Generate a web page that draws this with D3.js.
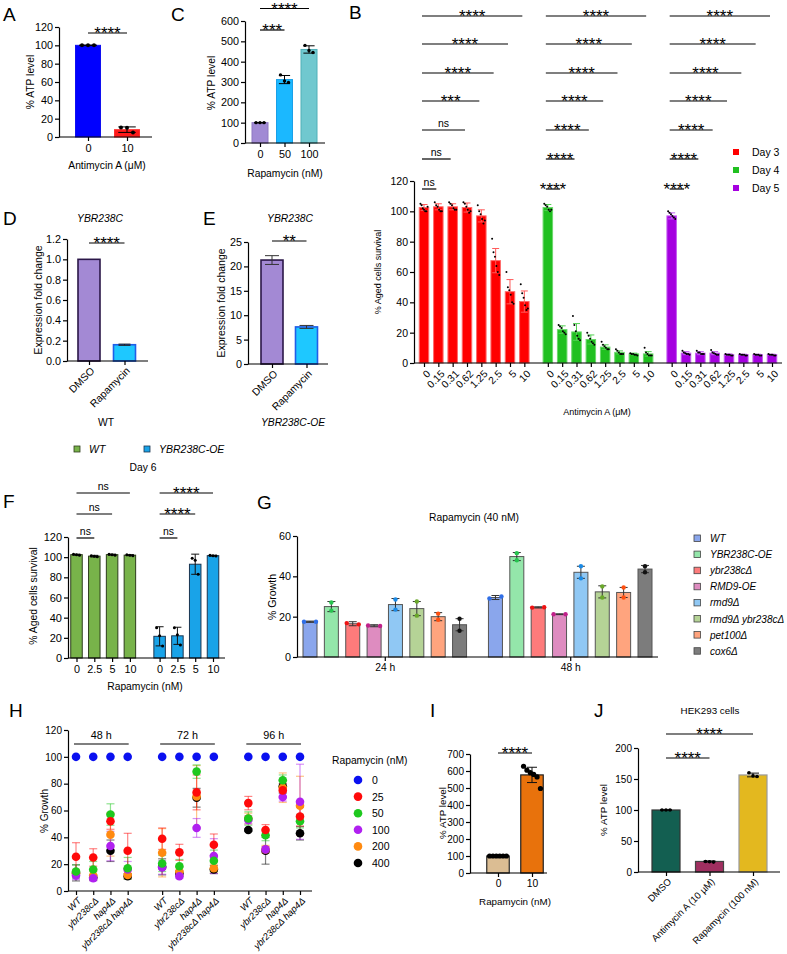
<!DOCTYPE html>
<html><head><meta charset="utf-8">
<script src="https://cdn.jsdelivr.net/npm/d3@7"></script>
<style>body{margin:0;background:#fff;}svg{font-family:"Liberation Sans",Arial,Helvetica,sans-serif;}</style>
</head><body>
<svg id="c" width="787" height="954"></svg>
<script>
// ---------------- DATA ----------------
// Panel A
const aCats = ["0", "10"];
const aVals = [100, 8];
const aErr = [0.3, 3];
const aDots = [[100, 100, 100], [10.5, 10, 5]];
const aTicks = [0, 20, 40, 60, 80, 100, 120];
// Panel C
const cCats = ["0", "50", "100"];
const cVals = [100, 312, 460];
const cErr = [0.5, 20, 18];
const cDots = [[100, 100, 100], [335, 305, 298], [480, 455, 445]];
const cTicks = [0, 100, 200, 300, 400, 500, 600];
// Panel B
const bDoses = ["0", "0.15", "0.31", "0.62", "1.25", "2.5", "5", "10"];
const bDays = ["Day 3", "Day 4", "Day 5"];
const bDay3 = [102.5, 103, 103, 102.5, 97, 67.5, 47, 40.5];
const bDay3Err = [2, 2, 2, 3, 4, 8, 8, 7];
const bDay4 = [102.5, 22, 20.5, 15.5, 10.5, 7, 6, 6];
const bDay4Err = [2, 2.5, 5.5, 3, 1.5, 1, 0.5, 1.5];
const bDay5 = [97, 6.5, 6.5, 6.5, 5.5, 5.5, 5.5, 5.5];
const bDay5Err = [2, 1, 1, 1, 0.5, 0.3, 0.3, 0.3];
const bDay3Dots = [[105,104,102,101,100,100,103],[106,104,103,101,100,100],[106,105,104,102,101,101],[106,105,103,101,99,100],[104,100,98,95,92,94],[82,73,70,64,60,58],[60,50,48,45,40,39],[52,46,43,38,35,36]];
const bDay4Dots = [[105,104,103,101,100,101],[25,24,23,21,20,19],[31,25,21,18,16,15],[20,18,16,14,13,12],[14,12,11,10,9,9],[9,8,7,6,6,6],[6.5,6,6,5.5,5.5,5],[10,7,6,5,5,5]];
const bDay5Dots = [[100,99,98,97,96,95],[8,7,6.5,6,6,5.5],[8,7,7,6,6,6],[8.5,7,6.5,6,5.5,5.5],[6,5.5,5.5,5.5,5,5],[6,5.5,5.5,5.5,5,5],[6,5.5,5.5,5.5,5,5],[6,5.5,5.5,5.5,5,5]];
const bSigDay3 = ["****", "****", "****", "***", "ns", "ns", "ns"];
const bSigDay4 = ["****", "****", "****", "****", "****", "****", "****"];
const bSigDay5 = ["****", "****", "****", "****", "****", "****", "****"];
const bTicks = [0, 20, 40, 60, 80, 100, 120];
// Panel D / E
const deCats = ["DMSO", "Rapamycin"];
const dVals = [1.0, 0.16];
const dErr = [0, 0.006];
const dTicks = [0, 0.2, 0.4, 0.6, 0.8, 1.0, 1.2];
const eVals = [21.3, 7.6];
const eErr = [0.9, 0.3];
const eTicks = [0, 5, 10, 15, 20, 25];
// Panel F
const fStrains = ["WT", "YBR238C-OE"];
const fDoses = ["0", "2.5", "5", "10"];
const fWT = [102.5, 101, 102.5, 102];
const fWTErr = [0.5, 0.8, 0.5, 0.5];
const fWTDots = [[103, 102.5, 102], [101.5, 101, 100.5], [103, 102.5, 102], [102.5, 102, 101.5]];
const fOE = [21.5, 22, 93, 101.5];
const fOEErr = [9.5, 8.5, 10, 0.4];
const fOEDots = [[30, 22, 12], [30, 23, 13], [99, 97, 83], [101.8, 101.5, 101.2]];
const fSigWT = ["ns", "ns", "ns"];
const fSigOE = ["****", "****", "ns"];
const fTicks = [0, 20, 40, 60, 80, 100, 120];
// Panel G
const gStrains = ["WT", "YBR238C-OE", "ybr238cΔ", "RMD9-OE", "rmd9Δ", "rmd9Δ ybr238cΔ", "pet100Δ", "cox6Δ"];
const gTimes = ["24 h", "48 h"];
const g24 = [17.5, 25, 16.5, 15.5, 26, 24, 20, 16];
const g24Err = [0.3, 2.5, 1, 0.5, 3, 3.5, 2, 3];
const g24Dots = [[17.5,17.5],[27,23],[16.8,16.2],[15.6,15.4],[28.5,23.5],[27.5,20.5],[21.5,18.5],[19,13]];
const g48 = [29.5, 49.8, 24.6, 21.2, 42, 32.3, 32, 43.6];
const g48Err = [1, 2, 0.3, 0.2, 3, 3, 2.5, 1.8];
const g48Dots = [[29,30],[51.5,48],[24.5,24.7],[21.2,21.2],[45,39],[35,29.5],[34.5,29.5],[45,42]];
const gTicks = [0, 20, 40, 60];
// Panel H
const hConcs = ["0", "25", "50", "100", "200", "400"];
const hStrains = ["WT", "ybr238cΔ", "hap4Δ", "ybr238cΔ hap4Δ"];
const hTimes = ["48 h", "72 h", "96 h"];
const h0 = [100,100,100,100, 100,100,100,100, 100,100,100,100];
const h0Err = [0,0,0,0, 0,0,0,0, 0,0,0,0];
const h25 = [25.5,25,52,30, 39,28.8,73.5,34.5, 65.5,45.5,75,55.5];
const h25Err = [10.5,6.5,6,13, 8,6,13,8, 5,4,5,7];
const h50 = [14.5,16,57,17, 20.5,18.5,89,22.5, 54,41.5,82.5,52];
const h50Err = [5,6,8,8, 6,5,5,8, 5,4,4,5];
const h100 = [11.5,9.5,33.5,16, 17.5,11,47,26, 53,31,70,66.5];
const h100Err = [3,2,11,6, 5,1.5,7,13, 3,2,3,28];
const h200 = [13,11.5,42,12, 28.5,14.5,70.5,17, 54,31,77,63.5];
const h200Err = [3,3,16,3, 18,3,23,3, 4,3,11,22];
const h400 = [13.5,10,30,11, 18,13,69.5,16, 45.5,30,78,43];
const h400Err = [6,2,8,2, 6,2,7,3, 1,10,5,5];
const hTicks = [0, 20, 40, 60, 80, 100, 120];
// Panel I
const iCats = ["0", "10"];
const iVals = [100, 577];
const iErr = [0.5, 45];
const iDots = [[100,100,100,100,100,100], [628,605,590,580,565,497]];
const iTicks = [0, 100, 200, 300, 400, 500, 600, 700];
// Panel J
const jCats = ["DMSO", "Antimycin A (10 µM)", "Rapamycin (100 nM)"];
const jVals = [100, 17, 156.5];
const jErr = [0.3, 0.8, 3];
const jDots = [[100,100,100], [17,16.5,16], [160,155,154]];
const jTicks = [0, 50, 100, 150, 200];

// ---------------- HELPERS ----------------
const FONT = '"Liberation Sans", Arial, Helvetica, sans-serif';
const svg = d3.select("#c");

function txt(t, x, y, o = {}) {
  const e = svg.append("text").attr("x", x).attr("y", y).text(t)
    .attr("font-size", o.fs || 10.5).attr("fill", o.fill || "#000")
    .attr("text-anchor", o.anchor || "start");
  if (o.italic) e.attr("font-style", "italic");
  if (o.rot) e.attr("transform", `rotate(${o.rot},${x},${y})`);
  return e;
}
function ylabel(t, x, y, fs) {
  txt(t, x, y, { fs: fs || 10.3, anchor: "middle", rot: -90 }).attr("dy", "0.35em");
}
function line(x1, y1, x2, y2, c, w) {
  return svg.append("line").attr("x1", x1).attr("y1", y1).attr("x2", x2).attr("y2", y2)
    .attr("stroke", c || "#000").attr("stroke-width", w || 1.2);
}
function yAxis(y, x, ticks, fmt, fs) {
  const g = svg.append("g").attr("transform", `translate(${x},0)`)
    .call(d3.axisLeft(y).tickValues(ticks).tickSize(4).tickSizeOuter(0).tickPadding(2)
      .tickFormat(fmt || d3.format("d")));
  g.attr("font-family", FONT).attr("font-size", fs || 10.8);
  g.selectAll("path,line").attr("stroke", "#000").attr("stroke-width", 1.2);
  g.selectAll("text").attr("fill", "#000");
  return g;
}
function xAxis(scale, vals, labels, y, o = {}) {
  const g = svg.append("g").attr("transform", `translate(0,${y})`)
    .call(d3.axisBottom(scale).tickValues(vals).tickFormat((d, i) => labels[i])
      .tickSize(4).tickSizeOuter(0).tickPadding(3));
  g.select(".domain").remove();
  g.attr("font-family", FONT).attr("font-size", o.fs || 10.8);
  g.selectAll("line").attr("stroke", "#000").attr("stroke-width", 1.2);
  g.selectAll("text").attr("fill", "#000");
  if (o.italic) g.selectAll("text").attr("font-style", "italic");
  if (o.rotate) g.selectAll("text").attr("x", 0).attr("y", 0).attr("dy", "0.35em")
    .attr("text-anchor", "end").attr("transform", `translate(${o.tx || 3},${o.ty || 8}) rotate(-45)`);
  return g;
}
function bars(xs, vals, errs, y, o) {
  const w = o.w;
  vals.forEach((v, i) => {
    const fill = Array.isArray(o.fill) ? o.fill[i] : o.fill;
    const stroke = Array.isArray(o.stroke) ? o.stroke[i] : o.stroke;
    svg.append("rect").attr("x", xs[i] - w / 2).attr("y", y(v)).attr("width", w)
      .attr("height", y(0) - y(v)).attr("fill", fill)
      .attr("stroke", stroke || "none").attr("stroke-width", o.sw || 1);
  });
  vals.forEach((v, i) => {
    const e = errs[i];
    const ec = Array.isArray(o.ec) ? o.ec[i] : (o.ec || "#000");
    if (e > 0) {
      const cw = o.cap || w * 0.35;
      line(xs[i], y(v + e), xs[i], y(v - e), ec, o.ew || 1);
      line(xs[i] - cw, y(v + e), xs[i] + cw, y(v + e), ec, o.ew || 1);
      line(xs[i] - cw, y(v - e), xs[i] + cw, y(v - e), ec, o.ew || 1);
    }
    if (o.dots) {
      const ds = o.dots[i], n = ds.length;
      const sp = n > 1 ? Math.min(o.dsp || 5, (w * 0.75) / (n - 1)) : 0;
      const dc = Array.isArray(o.dc) ? o.dc[i] : (o.dc || "#000");
      ds.forEach((d, j) => {
        svg.append("circle").attr("cx", xs[i] + (j - (n - 1) / 2) * sp).attr("cy", y(d))
          .attr("r", o.dr || 1.6).attr("fill", dc);
      });
    }
  });
}
function sig(x1, x2, yy, label, fs) {
  line(x1, yy, x2, yy, "#000", 1.2);
  const star = label.indexOf("*") >= 0;
  txt(label, (x1 + x2) / 2, star ? yy + 6 : yy - 3, { fs: star ? (fs || 17) : 10.5, anchor: "middle" });
}

// ---------------- PANEL A ----------------
txt("A", 3, 21, { fs: 19 });
{
  const y = d3.scaleLinear().domain([0, 120]).range([137, 27]);
  const x = d3.scaleLinear().domain([0, 1]).range([88, 127]);
  const xs = aCats.map((c, i) => x(i));
  bars(xs, aVals, aErr, y, { w: 25, fill: ["#0000ff", "#ff1a1a"], stroke: ["#1010f0", "#ff3030"], dots: aDots, dr: 2, dsp: 6 });
  yAxis(y, 59, aTicks);
  line(59, 137, 152, 137);
  xAxis(x, [0, 1], aCats, 137, { fs: 11 });
  sig(xs[0], xs[1], 33, "****");
  ylabel("% ATP level", 30, 82);
  txt("Antimycin A (μM)", 107, 169, { fs: 10.3, anchor: "middle" });
}
// ---------------- PANEL C ----------------
txt("C", 171, 21, { fs: 19 });
{
  const y = d3.scaleLinear().domain([0, 600]).range([143, 21]);
  const x = d3.scaleLinear().domain([0, 2]).range([260, 309]);
  const xs = cCats.map((c, i) => x(i));
  bars(xs, cVals, cErr, y, { w: 16, fill: ["#a18ad4", "#1bb8ff", "#70c8cf"], stroke: ["#8e78c2", "#1aa0e8", "#4fb0b8"], dots: cDots, dr: 1.7, dsp: 4 });
  yAxis(y, 245, cTicks);
  line(245, 143, 325, 143);
  xAxis(x, [0, 1, 2], cCats, 143);
  sig(xs[0], xs[2], 8.5, "****");
  sig(xs[0], xs[1], 30, "***");
  ylabel("% ATP level", 211, 83);
  txt("Rapamycin (nM)", 285, 177, { fs: 10.3, anchor: "middle" });
}
// ---------------- PANEL B ----------------
txt("B", 349, 19, { fs: 19 });
{
  const gap = 1.64;
  const y = d3.scaleLinear().domain([0, 120]).range([363, 181]);
  const x = d3.scaleLinear().domain([0, 2 * (7 + gap) + 7]).range([424, 772]);
  const pos = [];
  const labs = [];
  const series = [bDay3, bDay4, bDay5], errs = [bDay3Err, bDay4Err, bDay5Err], dots = [bDay3Dots, bDay4Dots, bDay5Dots];
  const fills = ["#ff0000", "#20c020", "#a500e0"], strokes = ["#ff6a6a", "#6ad86a", "#c45cf0"], ecs = ["#ff5a5a", "#55d055", "#c060f0"];
  const sigs = [bSigDay3, bSigDay4, bSigDay5];
  const rows = [16, 44, 73, 101, 130, 159, 189];
  series.forEach((s, gi) => {
    const xs = bDoses.map((d, i) => x(gi * (7 + gap) + i));
    xs.forEach((p, i) => { pos.push(gi * (7 + gap) + i); labs.push(bDoses[i]); });
    bars(xs, s, errs[gi], y, { w: 9.5, fill: fills[gi], stroke: strokes[gi], sw: 1, ec: ecs[gi], ew: 1, cap: 3.5, dots: dots[gi], dr: 1, dsp: 2 });
    sigs[gi].forEach((lab, r) => sig(xs[0] - 2, xs[7 - r] - 2, rows[r], lab));
  });
  yAxis(y, 414, bTicks, null, 10.5);
  line(414, 363, 782, 363);
  xAxis(x, pos, labs, 363, { rotate: true, fs: 10.3, tx: 4, ty: 9 });
  ylabel("% Aged cells survival", 378, 272, 9);
  txt("Antimycin A (μM)", 597, 415, { fs: 9, anchor: "middle" });
  bDays.forEach((d, i) => {
    svg.append("rect").attr("x", 733).attr("y", 149 + i * 18).attr("width", 6).attr("height", 6).attr("fill", fills[i]);
    txt(d, 752, 156 + i * 18, { fs: 10.5 });
  });
}
// ---------------- PANEL D ----------------
txt("D", 3, 225, { fs: 19 });
{
  const y = d3.scaleLinear().domain([0, 1.2]).range([361, 239]);
  const x = d3.scaleLinear().domain([0, 1]).range([89, 124.5]);
  const xs = deCats.map((c, i) => x(i));
  bars(xs, dVals, dErr, y, { w: 22, fill: ["#a389d4", "#1ec8ff"], stroke: ["#2b1748", "#1f5ee8"], sw: 1.6, ec: "#222", cap: 6 });
  yAxis(y, 67, dTicks, d3.format(".1f"));
  line(67, 361, 148, 361);
  xAxis(x, [0, 1], deCats, 361, { rotate: true, fs: 10.3 });
  sig(xs[0], xs[1], 243, "****");
  txt("YBR238C", 100, 222, { italic: true, anchor: "middle", fs: 10.3 });
  ylabel("Expression fold change", 38, 300, 10.5);
  txt("WT", 106, 426, { anchor: "middle", fs: 10.3 });
}
// ---------------- PANEL E ----------------
txt("E", 203, 225, { fs: 19 });
{
  const y = d3.scaleLinear().domain([0, 25]).range([364, 242]);
  const x = d3.scaleLinear().domain([0, 1]).range([272, 306.5]);
  const xs = deCats.map((c, i) => x(i));
  bars(xs, eVals, eErr, y, { w: 22, fill: ["#a389d4", "#1ec8ff"], stroke: ["#2b1748", "#1f5ee8"], sw: 1.6, ec: "#333", cap: 7 });
  yAxis(y, 248, eTicks);
  line(248, 364, 328, 364);
  xAxis(x, [0, 1], deCats, 364, { rotate: true, fs: 10.3 });
  sig(xs[0], xs[1], 241, "**");
  txt("YBR238C", 290, 222, { italic: true, anchor: "middle", fs: 10.3 });
  ylabel("Expression fold change", 221, 303, 10.5);
  txt("YBR238C-OE", 293, 426, { italic: true, anchor: "middle", fs: 10.3 });
}
// ---------------- PANEL F ----------------
txt("F", 3, 508, { fs: 19 });
{
  const gap = 1.67;
  const y = d3.scaleLinear().domain([0, 120]).range([658, 537]);
  const x = d3.scaleLinear().domain([0, 3 + gap + 3]).range([76.5, 213]);
  const fills = ["#78b34a", "#19a3e8"], strokes = ["#2d3d1c", "#1a3550"];
  const series = [fWT, fOE], errs = [fWTErr, fOEErr], dots = [fWTDots, fOEDots], sigs = [fSigWT, fSigOE];
  const rows = [493, 514, 538];
  const pos = [], labs = [];
  series.forEach((s, gi) => {
    const xs = fDoses.map((d, i) => x(gi * (3 + gap) + i));
    xs.forEach((p, i) => { pos.push(gi * (3 + gap) + i); labs.push(fDoses[i]); });
    bars(xs, s, errs[gi], y, { w: 11.5, fill: fills[gi], stroke: strokes[gi], sw: 1, ec: "#111", cap: 4, dots: dots[gi], dr: 1.5, dsp: 3 });
    sigs[gi].forEach((lab, r) => sig(xs[0], xs[3 - r], rows[r], lab));
  });
  yAxis(y, 68, fTicks, null, 11);
  line(68, 658, 225, 658);
  xAxis(x, pos, labs, 658, { fs: 10.8 });
  ylabel("% Aged cells survival", 33, 596, 10.4);
  txt("Rapamycin (nM)", 145, 690, { fs: 10.3, anchor: "middle" });
  fStrains.forEach((s, i) => {
    const lx = [74, 144][i];
    svg.append("rect").attr("x", lx).attr("y", 446).attr("width", 6).attr("height", 6).attr("fill", fills[i]).attr("stroke", strokes[i]).attr("stroke-width", 0.8);
    txt(s, lx + 15, 453, { italic: true, fs: 10.5 });
  });
  txt("Day 6", 143, 471, { anchor: "middle", fs: 10.3 });
}
// ---------------- PANEL G ----------------
txt("G", 257, 509, { fs: 19 });
{
  const gap = 1.68;
  const y = d3.scaleLinear().domain([0, 60]).range([657, 536]);
  const x = d3.scaleLinear().domain([0, 7 + gap + 7]).range([310, 645]);
  const fills = ["#8aa6ec", "#94e6aa", "#fe7b7b", "#de8cc0", "#90c8f4", "#b5d396", "#ffa47e", "#7c7c7c"];
  const dcs = ["#2f6ee6", "#27c44f", "#ee1212", "#c0208a", "#1a8ae6", "#6aa82a", "#ff5010", "#111111"];
  const series = [g24, g48], errs = [g24Err, g48Err], dots = [g24Dots, g48Dots];
  const centers = [];
  series.forEach((s, gi) => {
    const xs = gStrains.map((d, i) => x(gi * (7 + gap) + i));
    centers.push(gi * (7 + gap) + 3.5);
    const w = 14;
    xs.forEach((p, i) => {
      svg.append("rect").attr("x", p - w / 2).attr("y", y(s[i])).attr("width", w).attr("height", y(0) - y(s[i]))
        .attr("fill", fills[i]).attr("stroke", "#555").attr("stroke-width", 1);
    });
    xs.forEach((p, i) => {
      const v = s[i], e = errs[gi][i];
      if (e > 0) {
        line(p, y(v + e), p, y(v - e), "#333", 1);
        line(p - 4, y(v + e), p + 4, y(v + e), "#333", 1);
        line(p - 4, y(v - e), p + 4, y(v - e), "#333", 1);
      }
      const d = dots[gi][i];
      const spread = Math.abs(d[0] - d[1]) < 2 ? w / 2 - 1 : 0;
      d.forEach((dv, j) => svg.append("circle").attr("cx", p + (j ? spread : -spread)).attr("cy", y(dv)).attr("r", 2.2).attr("fill", dcs[i]));
    });
  });
  yAxis(y, 297, gTicks);
  line(297, 657, 658, 657);
  xAxis(x, centers, gTimes, 657, { fs: 10.3 });
  ylabel("% Growth", 272, 597, 10.5);
  txt("Rapamycin (40 nM)", 474, 521, { anchor: "middle", fs: 10.3 });
  gStrains.forEach((s, i) => {
    const ly = 535 + i * 16.1;
    svg.append("rect").attr("x", 694).attr("y", ly).attr("width", 6.5).attr("height", 6.5).attr("fill", fills[i]).attr("stroke", "#444").attr("stroke-width", 0.8);
    txt(s, 710, ly + 7, { italic: true, fs: 10 });
  });
}
// ---------------- PANEL H ----------------
txt("H", 9, 717, { fs: 19 });
{
  const y = d3.scaleLinear().domain([0, 120]).range([891, 730]);
  const x = d3.scaleLinear().domain([0, 13]).range([76, 300]);
  const colors = ["#0a10f0", "#ff0a0a", "#1ec81e", "#b020f0", "#ff8a10", "#000000"];
  const means = [h0, h25, h50, h100, h200, h400], errs = [h0Err, h25Err, h50Err, h100Err, h200Err, h400Err];
  const pos = [], labs = [];
  hTimes.forEach((t, ti) => hStrains.forEach((s, si) => { pos.push(ti * 5 + si); labs.push(s); }));
  const order = [5, 4, 3, 2, 1, 0];
  order.forEach(ci => {
    means[ci].forEach((m, k) => {
      const e = errs[ci][k], px = x(pos[k]);
      if (e > 0) {
        line(px, y(m + e), px, y(m - e), colors[ci], 1.2).attr("stroke-opacity", 0.5);
        [m + e, m - e].forEach(v => line(px - 4, y(v), px + 4, y(v), colors[ci], 1.2).attr("stroke-opacity", 0.5));
      }
    });
  });
  order.forEach(ci => {
    means[ci].forEach((m, k) => {
      svg.append("circle").attr("cx", x(pos[k])).attr("cy", y(m)).attr("r", 4.3).attr("fill", colors[ci]);
    });
  });
  yAxis(y, 68, hTicks, null, 10);
  line(68, 891, 312, 891);
  xAxis(x, pos, labs, 891, { rotate: true, italic: true, fs: 9.3, tx: 3, ty: 8 });
  ylabel("% Growth", 44, 811, 10);
  hTimes.forEach((t, ti) => {
    const x1 = x(ti * 5) - 2, x2 = x(ti * 5 + 3) + 1;
    line(x1, 744, x2, 744);
    txt(t, (x1 + x2) / 2, 739, { anchor: "middle", fs: 10.8 });
  });
  txt("Rapamycin (nM)", 332, 764, { fs: 10.3 });
  hConcs.forEach((c, i) => {
    const ly = 780 + i * 16.6;
    svg.append("circle").attr("cx", 358).attr("cy", ly).attr("r", 4.3).attr("fill", colors[i]);
    txt(c, 372, ly + 4, { fs: 10.5 });
  });
}
// ---------------- PANEL I ----------------
txt("I", 430, 717, { fs: 19 });
{
  const y = d3.scaleLinear().domain([0, 700]).range([873, 754]);
  const x = d3.scaleLinear().domain([0, 1]).range([498, 532]);
  const xs = iCats.map((c, i) => x(i));
  bars(xs, iVals, iErr, y, { w: 22.5, fill: ["#dbbd93", "#e8720c"], stroke: ["#2a2a2a", "#222"], sw: 1.2, ec: "#111", cap: 5, dots: iDots, dr: 2.6, dsp: 3.5 });
  yAxis(y, 470, iTicks, null, 10);
  line(470, 873, 547, 873);
  xAxis(x, [0, 1], iCats, 873, { fs: 10.3 });
  sig(xs[0], xs[1], 753, "****");
  ylabel("% ATP level", 443, 813, 9.8);
  txt("Rapamycin (nM)", 515, 905, { fs: 9.8, anchor: "middle" });
}
// ---------------- PANEL J ----------------
txt("J", 594, 717, { fs: 19 });
{
  const y = d3.scaleLinear().domain([0, 200]).range([872, 748]);
  const x = d3.scaleLinear().domain([0, 2]).range([666, 753]);
  const xs = jCats.map((c, i) => x(i));
  bars(xs, jVals, jErr, y, { w: 28, fill: ["#135f51", "#a02f60", "#e3b81f"], stroke: ["#333", "#444", "#999"], sw: 1.2, ec: "#111", cap: 6, dots: jDots, dr: 1.8, dsp: 4 });
  yAxis(y, 638, jTicks, null, 10);
  line(638, 872, 780, 872);
  xAxis(x, [0, 1, 2], jCats, 872, { rotate: true, fs: 9.5 });
  sig(xs[0], xs[2], 734, "****");
  sig(xs[0], xs[1], 758, "****");
  ylabel("% ATP level", 604, 810, 9.8);
  txt("HEK293 cells", 710, 714, { anchor: "middle", fs: 9.8 });
}
</script>
</body></html>
